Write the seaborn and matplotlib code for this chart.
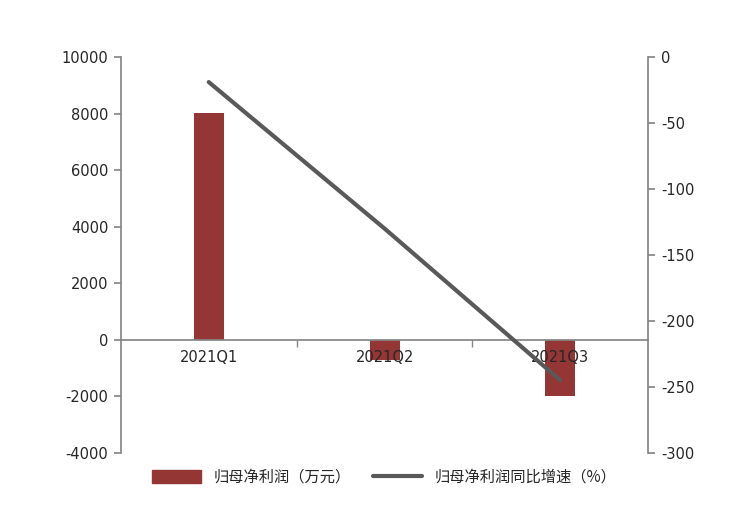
import matplotlib
matplotlib.use("Agg")
import matplotlib.pyplot as plt
import matplotlib.patches as mpatches
import matplotlib.lines as mlines
import seaborn as sns
import pandas as pd

quarters = ["2021Q1", "2021Q2", "2021Q3"]
net_profit = [8030, -700, -2000]      # 万元
growth = [-19, -130, -245]            # %

bar_color = "#943634"
line_color = "#595959"
axis_color = "#868686"

sns.set_theme(style="white")
plt.rcParams["font.family"] = ["Noto Sans CJK SC", "DejaVu Sans"]
plt.rcParams["axes.unicode_minus"] = False

df = pd.DataFrame({"quarter": quarters, "profit": net_profit, "growth": growth})

fig = plt.figure(figsize=(7.46, 5.23), dpi=100)
ax = fig.add_axes([0.162, 0.134, 0.707, 0.757])

sns.barplot(data=df, x="quarter", y="profit", color=bar_color, width=0.17,
            saturation=1, linewidth=0, ax=ax)
ax.set_axisbelow(False)
ax.set_xlim(-0.5, 2.5)
ax.set_ylim(-4000, 10000)
ax.set_yticks(range(-4000, 10001, 2000))
ax.set_xlabel("")
ax.set_ylabel("")

for s in ["top", "right"]:
    ax.spines[s].set_visible(False)
ax.spines["left"].set_color(axis_color)
ax.spines["bottom"].set_color(axis_color)
ax.spines["bottom"].set_position(("data", 0))
ax.tick_params(axis="y", direction="out", length=5, color=axis_color, left=True,
               labelsize=10.5, pad=4)
ax.tick_params(axis="x", which="major", length=0, labelsize=10.5, pad=7)
ax.set_xticks([0.5, 1.5], minor=True)
ax.tick_params(axis="x", which="minor", length=5, direction="out",
               color=axis_color, bottom=True)
for lab in ax.get_yticklabels() + ax.get_xticklabels():
    lab.set_family("DejaVu Sans")

ax2 = ax.twinx()
sns.lineplot(data=df, x="quarter", y="growth", color=line_color, linewidth=3,
             ax=ax2)
ax2.set_ylim(-300, 0)
ax2.set_yticks(range(-300, 1, 50))
ax2.set_ylabel("")
for s in ["top", "left", "bottom"]:
    ax2.spines[s].set_visible(False)
ax2.spines["right"].set_color(axis_color)
ax2.tick_params(axis="y", direction="out", length=5, color=axis_color, right=True,
                labelsize=10.5, pad=4)
for lab in ax2.get_yticklabels():
    lab.set_family("DejaVu Sans")
ax2.grid(False)
ax.grid(False)

bar_handle = mpatches.Patch(color=bar_color, label="归母净利润（万元）")
line_handle = mlines.Line2D([], [], color=line_color, linewidth=3,
                            label="归母净利润同比增速（%）")
fig.legend(handles=[bar_handle, line_handle], loc="center",
           bbox_to_anchor=(0.515, 0.087), ncol=2, frameon=False, fontsize=11,
           handlelength=3.2, handleheight=0.9, columnspacing=1.5)

fig.savefig("out.png", dpi=100)
